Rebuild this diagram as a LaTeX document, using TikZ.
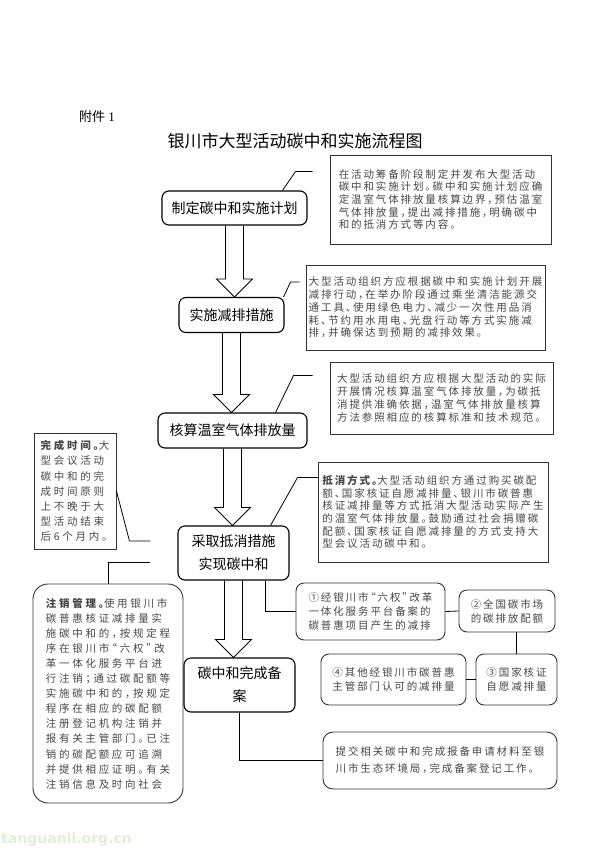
\documentclass[tikz,border=0pt]{standalone}
\usepackage{fontspec}
\usetikzlibrary{positioning,calc}
\setmainfont{Liberation Serif}
\newfontfamily\cjk{Noto Sans CJK SC}
\newfontfamily\cjknote[LetterSpace=18,RawFeature=+halt]{Noto Sans CJK SC}
\newfontfamily\cjkwide[LetterSpace=26,RawFeature=+halt]{Noto Sans CJK SC}
\newfontfamily\wmfont{DejaVu Sans}
\definecolor{ink}{RGB}{70,70,70}
\definecolor{wmgreen}{RGB}{224,239,214}
% hollow block arrow between two stages
\newcommand\hollow[2]{%
  \draw[fat] let \p1=(#1.south), \p2=(#2.north) in
    (\x1-9pt,\y1) -- (\x1-9pt,\y2+18pt) -- (\x1-18pt,\y2+18pt) -- (\x1,\y2)
    -- (\x1+18pt,\y2+18pt) -- (\x1+9pt,\y2+18pt) -- (\x1+9pt,\y1);}

\begin{document}
\begin{tikzpicture}[x=1pt, y=-1pt,
  stage/.style={draw, line width=1.1pt, rounded corners=7pt, align=center, inner sep=0pt,
    font=\cjk\fontsize{14}{23}\selectfont},
  note/.style={draw=black!80, line width=0.9pt, text=ink, align=left, inner sep=0pt,
    font=\cjknote\fontsize{10.5}{12.7}\selectfont},
  rnote/.style={note, rounded corners=10pt},
  wnote/.style={note, font=\cjkwide\fontsize{10.5}{15.1}\selectfont},
  src/.style={note, rounded corners=8pt, font=\cjknote\fontsize{10.5}{14}\selectfont},
  link/.style={line width=0.8pt},
  fat/.style={line width=0.9pt}]
\useasboundingbox (0,0) rectangle (600,848);

\node[anchor=west, inner sep=0pt, font=\fontsize{13}{13}\selectfont] (annex) at (79,117) {{\cjk 附件}~1};
\node[inner sep=0pt, font=\cjk\fontsize{17}{17}\selectfont] (title) at (295,141) {银川市大型活动碳中和实施流程图};

% main stages
\node[stage, minimum width=145pt, minimum height=34pt] (plan) at (234.5,208) {制定碳中和实施计划};
\node[stage, minimum width=105pt, minimum height=35pt] (act) at (231.5,315) {实施减排措施};
\node[stage, minimum width=149pt, minimum height=35pt] (acc) at (232.5,430.5) {核算温室气体排放量};
\node[stage, minimum width=111pt, minimum height=54pt] (off) at (233.5,553) {采取抵消措施\\实现碳中和};
\node[stage, minimum width=111pt, minimum height=54pt] (done) at (239.5,685) {碳中和完成备\\案};

% notes
\node[note, minimum width=221pt, minimum height=89pt] (nplan) at (440.5,199.5)
  {在活动筹备阶段制定并发布大型活动\\碳中和实施计划。碳中和实施计划应确\\定温室气体排放量核算边界，预估温室\\气体排放量，提出减排措施，明确碳中\\和的抵消方式等内容。};
\node[note, minimum width=239pt, minimum height=85pt] (nact) at (425.5,307.5)
  {大型活动组织方应根据碳中和实施计划开展\\减排行动，在举办阶段通过乘坐清洁能源交\\通工具、使用绿色电力、减少一次性用品消\\耗、节约用水用电、光盘行动等方式实施减\\排，并确保达到预期的减排效果。};
\node[note, minimum width=223pt, minimum height=72pt] (nacc) at (441.5,398)
  {大型活动组织方应根据大型活动的实际\\开展情况核算温室气体排放量，为碳抵\\消提供准确依据，温室气体排放量核算\\方法参照相应的核算标准和技术规范。};
\node[note, minimum width=230pt, minimum height=100pt] (noff) at (433,512)
  {{\bfseries 抵消方式。}大型活动组织方通过购买碳配\\额、国家核证自愿减排量、银川市碳普惠\\核证减排量等方式抵消大型活动实际产生\\的温室气体排放量。鼓励通过社会捐赠碳\\配额、国家核证自愿减排量的方式支持大\\型会议活动碳中和。};
\node[wnote, minimum width=82pt, minimum height=116pt] (ntime) at (75,491)
  {{\bfseries 完成时间。}大\\型会议活动\\碳中和的完\\成时间原则\\上不晚于大\\型活动结束\\后6个月内。};
\node[wnote, rounded corners=15pt, minimum width=150pt, minimum height=219pt] (ncancel) at (108,693.5)
  {{\bfseries 注销管理。}使用银川市\\碳普惠核证减排量实\\施碳中和的，按规定程\\序在银川市“六权”改\\革一体化服务平台进\\行注销；通过碳配额等\\实施碳中和的，按规定\\程序在相应的碳配额\\注册登记机构注销并\\报有关主管部门。已注\\销的碳配额应可追溯\\并提供相应证明。有关\\注销信息及时向社会};
\node[rnote, minimum width=234pt, minimum height=57pt, font=\cjknote\fontsize{10.5}{17}\selectfont] (nfile) at (440,760.5)
  {提交相关碳中和完成报备申请材料至银\\川市生态环境局，完成备案登记工作。};

% offset sources
\node[src, minimum width=149pt, minimum height=57pt] (src1) at (370.5,611.5) {①经银川市“六权”改革\\一体化服务平台备案的\\碳普惠项目产生的减排};
\node[src, minimum width=96pt, minimum height=42pt] (src2) at (507,611) {②全国碳市场\\的碳排放配额};
\node[src, minimum width=81pt, minimum height=51pt] (src3) at (516.5,679.5) {③国家核证\\自愿减排量};
\node[src, minimum width=145pt, minimum height=51pt] (src4) at (393.5,679.5) {④其他经银川市碳普惠\\主管部门认可的减排量};

\node[anchor=west, inner sep=0pt, text=wmgreen, font=\wmfont\bfseries\fontsize{14}{14}\selectfont] (wmark) at (1,840) {tanguanli.org.cn};

% flow
\hollow{plan}{act}
\hollow{act}{acc}
\hollow{acc}{off}
\hollow{off}{done}

% callouts
\draw[link] ([xshift=-25pt]plan.north east) -- ++(13,-19) -- ++(17,0);
\draw[link] ([xshift=-1pt]act.north east) -- ++(7,-15) -- ++(9,0);
\draw[link] ([xshift=-32pt]acc.north east) -- ++(18,-37) -- ++(19,0);
\draw[link] ([xshift=-19pt]off.north east) -- ++(27,-48) -- ++(21,0);
\draw[link] (ntime.east) -- ++(13,50) -- ++(21,0);
\coordinate (kcancel) at (150,562);
\draw[link] (kcancel) -| (ncancel.north);
\draw[link] ([xshift=31.5pt]off.south) |- (src1.west);
\draw[link] (src1.east) -- (src2.west);
\draw[link] (src3.north) -- (src3.north |- src2.south);
\draw[link] (src4.east) -- (src3.west);
\draw[link] (done.south) |- (nfile.west);
\end{tikzpicture}
\end{document}
